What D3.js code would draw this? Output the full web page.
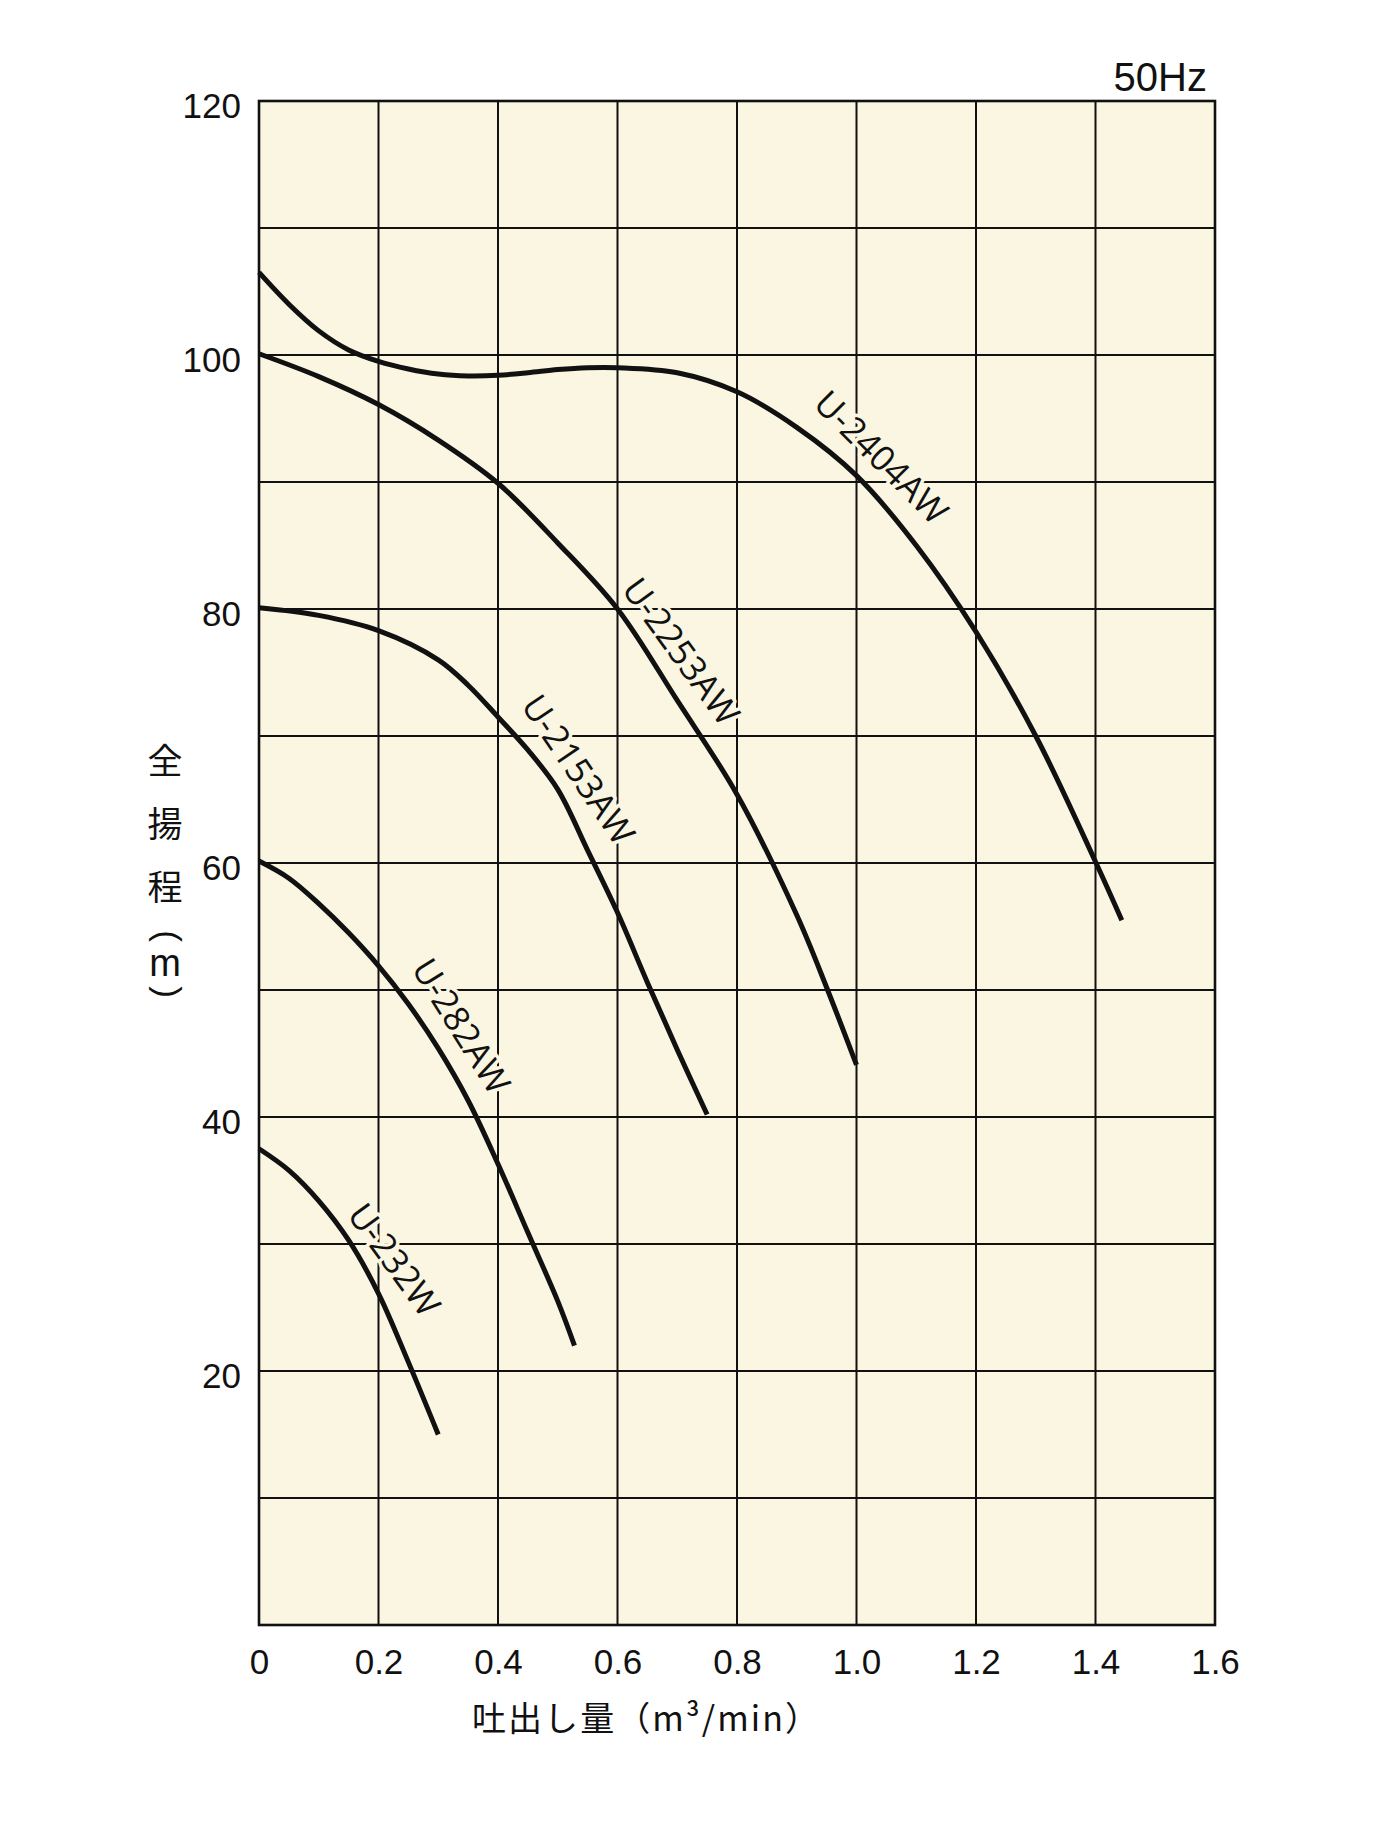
<!doctype html>
<html lang="ja">
	<head>
		<meta charset="UTF-8">
		<title>Pump performance curves 50Hz</title>
		<style>
			body { margin: 0; background: #ffffff; }
			.plot-bg { fill: #faf6e2; }
			.grid line { stroke: #111; stroke-width: 2; }
			.frame { fill: none; stroke: #111; stroke-width: 2.6; }
			.curve { fill: none; stroke: #111; stroke-width: 5; }
			.tick-label { font-family: "Liberation Sans", Arial, sans-serif; font-size: 35px; fill: #111; }
			.model-label {
				font-family: "Open Sans", "Noto Sans", sans-serif; font-size: 35px; fill: #111;
				stroke: #faf6e2; stroke-width: 7; paint-order: stroke; stroke-linejoin: round;
			}
			.title-jp { font-family: "Noto Sans CJK JP", sans-serif; fill: #111; }
			.title-latin { font-family: "Liberation Sans", Arial, sans-serif; fill: #111; }
		</style>
	</head>
	<body>
		<svg id="chart"></svg>

		<script src="https://d3js.org/d3.v7.min.js"></script>
		<script>

			// x axis: discharge (m3/min)
			var flowTicks = [0, 0.2, 0.4, 0.6, 0.8, 1.0, 1.2, 1.4, 1.6];
			var flowLabels = ["0", "0.2", "0.4", "0.6", "0.8", "1.0", "1.2", "1.4", "1.6"];

			// y axis: total head (m)
			var headGrid = [0, 10, 20, 30, 40, 50, 60, 70, 80, 90, 100, 110, 120];
			var headTicks = [20, 40, 60, 80, 100, 120];

			// pump models and their curves [flow, head]
			var models = ["U-2404AW", "U-2253AW", "U-2153AW", "U-282AW", "U-232W"];

			var u2404aw = [[0, 106.5], [0.05, 104.0], [0.1, 101.9], [0.15, 100.4], [0.2, 99.5], [0.25, 98.9],
				[0.3, 98.5], [0.35, 98.35], [0.4, 98.4], [0.45, 98.6], [0.5, 98.85], [0.55, 99.0], [0.6, 99.0],
				[0.7, 98.6], [0.8, 97.1], [0.9, 94.3], [1.0, 90.5], [1.1, 85.0], [1.2, 78.2], [1.3, 70.0],
				[1.4, 60.1], [1.444, 55.5]];
			var u2253aw = [[0, 100.1], [0.1, 98.3], [0.2, 96.1], [0.3, 93.3], [0.4, 89.9], [0.5, 85.2],
				[0.6, 80.0], [0.7, 72.8], [0.8, 65.4], [0.9, 55.9], [0.95, 50.2], [1.0, 44.1]];
			var u2153aw = [[0, 80.1], [0.1, 79.5], [0.2, 78.3], [0.3, 76.0], [0.35, 74.0], [0.4, 71.5],
				[0.45, 68.9], [0.5, 65.8], [0.55, 61.0], [0.6, 56.1], [0.65, 50.6], [0.7, 45.3], [0.75, 40.2]];
			var u282aw = [[0, 60.15], [0.05, 58.8], [0.1, 56.8], [0.15, 54.5], [0.2, 51.9], [0.25, 48.9],
				[0.3, 45.4], [0.35, 41.3], [0.4, 36.3], [0.45, 30.9], [0.5, 25.5], [0.528, 22.0]];
			var u232w = [[0, 37.5], [0.05, 35.8], [0.1, 33.4], [0.15, 30.3], [0.2, 26.1], [0.25, 20.7], [0.3, 15.0]];

			// label centre for each model [flow, head, angle]
			var labelSpots = [[1.043, 92.0, 45], [0.708, 76.7, 54], [0.536, 67.4, 56], [0.340, 47.2, 58], [0.228, 28.8, 54]];

			var freqText = "50Hz";
			var xTitle = "吐出し量（m³/min）";
			var yTitleChars = ["全", "揚", "程", "(", "m", ")"];

			// Setting up the svg area
			var svgWidth = 1381, svgHeight = 1826;
			var plotLeft = 259, plotRight = 1215, plotTop = 101, plotBottom = 1625;

			var svg = d3.select("#chart")
				.attr("width", svgWidth)
				.attr("height", svgHeight);

			var x = d3.scaleLinear().domain([0, 1.6]).range([plotLeft, plotRight]);
			var y = d3.scaleLinear().domain([0, 120]).range([plotBottom, plotTop]);

			svg.append("rect")
				.attr("class", "plot-bg")
				.attr("x", plotLeft).attr("y", plotTop)
				.attr("width", plotRight - plotLeft).attr("height", plotBottom - plotTop);

			// grid lines
			var grid = svg.append("g").attr("class", "grid");
			grid.selectAll(".vline")
				.data(flowTicks)
				.enter().append("line")
				.attr("x1", function(d) { return x(d); })
				.attr("x2", function(d) { return x(d); })
				.attr("y1", plotTop).attr("y2", plotBottom);
			grid.selectAll(".hline")
				.data(headGrid)
				.enter().append("line")
				.attr("y1", function(d) { return y(d); })
				.attr("y2", function(d) { return y(d); })
				.attr("x1", plotLeft).attr("x2", plotRight);

			svg.append("rect")
				.attr("class", "frame")
				.attr("x", plotLeft).attr("y", plotTop)
				.attr("width", plotRight - plotLeft).attr("height", plotBottom - plotTop);

			// axes (labels only)
			var xAxis = svg.append("g")
				.attr("transform", "translate(0," + plotBottom + ")")
				.call(d3.axisBottom(x).tickValues(flowTicks)
					.tickFormat(function(d, i) { return flowLabels[i]; })
					.tickSize(0).tickPadding(24));
			xAxis.select(".domain").remove();
			xAxis.selectAll("text").attr("class", "tick-label");
			xAxis.attr("font-size", null).attr("font-family", null);

			var yAxis = svg.append("g")
				.attr("transform", "translate(" + plotLeft + ",0)")
				.call(d3.axisLeft(y).tickValues(headTicks).tickSize(0).tickPadding(18));
			yAxis.select(".domain").remove();
			yAxis.selectAll("text").attr("class", "tick-label").attr("dy", "0.48em");
			yAxis.attr("font-size", null).attr("font-family", null);

			// pump curves
			var line = d3.line()
				.x(function(d) { return x(d[0]); })
				.y(function(d) { return y(d[1]); })
				.curve(d3.curveCatmullRom.alpha(0.5));

			var curves = [u2404aw, u2253aw, u2153aw, u282aw, u232w];
			svg.selectAll(".curve")
				.data(curves)
				.enter().append("path")
				.attr("class", "curve")
				.attr("d", line);

			// model names along the curves
			svg.selectAll(".model-label")
				.data(models)
				.enter().append("text")
				.attr("class", "model-label")
				.attr("text-anchor", "middle")
				.attr("dominant-baseline", "central")
				.attr("transform", function(d, i) {
					var s = labelSpots[i];
					return "translate(" + x(s[0]) + "," + y(s[1]) + ") rotate(" + s[2] + ")";
				})
				.text(function(d) { return d; });

			// frequency note
			svg.append("text")
				.attr("class", "tick-label")
				.attr("x", 1207).attr("y", 91)
				.attr("text-anchor", "end")
				.style("font-size", "40px")
				.text(freqText);

			// axis titles
			svg.append("text")
				.attr("class", "title-jp")
				.attr("x", 472).attr("y", 1731)
				.attr("textLength", 347)
				.attr("lengthAdjust", "spacing")
				.style("font-size", "34px")
				.text(xTitle);

			// vertical y title; brackets are turned sideways like vertical writing
			var yTitlePos = [758, 821, 884, 936, 966, 992];
			var isBracket = function(d) { return d === "(" || d === ")"; };
			svg.selectAll(".ytitle")
				.data(yTitleChars)
				.enter().append("text")
				.attr("class", function(d) { return /[a-z()]/.test(d) ? "title-latin" : "title-jp"; })
				.attr("text-anchor", "middle")
				.attr("transform", function(d, i) {
					return "translate(165," + yTitlePos[i] + ")" + (isBracket(d) ? " rotate(90)" : "");
				})
				.attr("dominant-baseline", function(d) { return /[a-z()]/.test(d) ? null : "central"; })
				.attr("y", function(d) { return isBracket(d) ? "0.26em" : (d === "m" ? "0.27em" : 0); })
				.style("font-size", function(d) { return d === "m" ? "38px" : "35px"; })
				.text(function(d) { return d; });

		</script>
	</body>
</html>
